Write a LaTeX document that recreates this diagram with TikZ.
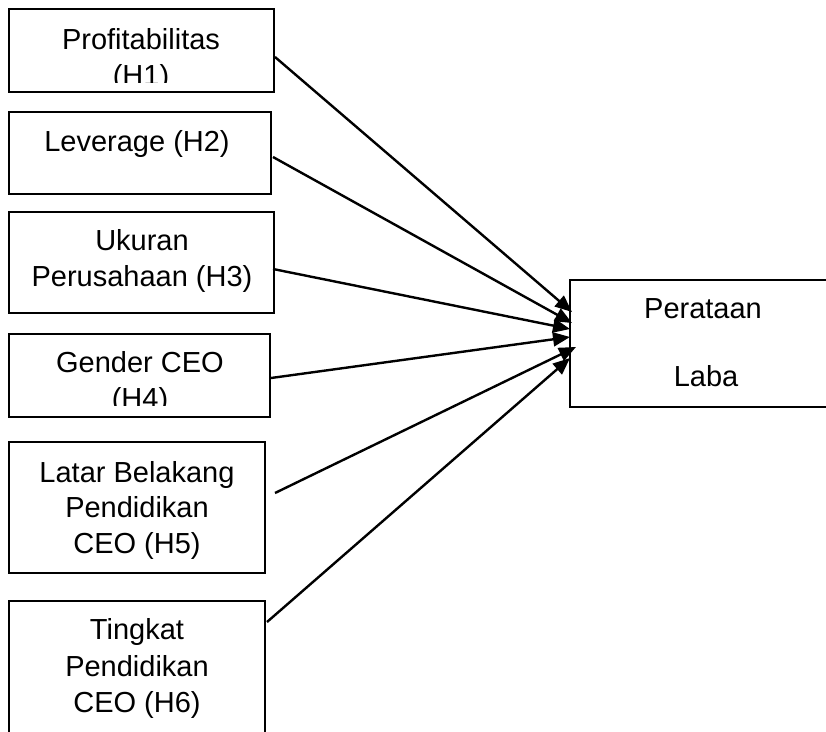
\documentclass[tikz,border=0pt]{standalone}
\usepackage{fontspec}
\setmainfont{Liberation Sans}
\usetikzlibrary{arrows.meta}
\begin{document}
\begin{tikzpicture}[x=1pt,y=-1pt,
  box/.style={draw=black,line width=2.2pt,rectangle,inner sep=0pt},
  lbl/.style={anchor=base,inner sep=0pt,font=\fontsize{29}{36}\selectfont},
  conn/.style={draw=black,line width=2.4pt,-{Triangle[length=17pt,width=14pt]}}]
\clip (0,0) rectangle (826,731);
\fill[white] (0,0) rectangle (826,731);
% boxes
\node[box,minimum width=265pt,minimum height=83pt] (b1) at (141.5,50.5) {};
\node[box,minimum width=262pt,minimum height=82pt] (b2) at (140,153) {};
\node[box,minimum width=265pt,minimum height=101pt] (b3) at (141.5,262.5) {};
\node[box,minimum width=261pt,minimum height=83pt] (b4) at (139.5,375.5) {};
\node[box,minimum width=256pt,minimum height=131pt] (b5) at (137,507.5) {};
\node[box,minimum width=256pt,minimum height=180pt] (b6) at (137,691) {};
\node[box,minimum width=300pt,minimum height=127pt] (t) at (720,343.5) {};
% texts
\begin{scope}
\clip (9,9) rectangle (274,82);
\node[lbl] (l1a) at (141,49) {Profitabilitas};
\node[lbl] (l1b) at (141,85) {(H1)};
\end{scope}
\node[lbl] (l2a) at (137,151) {Leverage (H2)};
\node[lbl] (l3a) at (142,250) {Ukuran};
\node[lbl] (l3b) at (142,286) {Perusahaan (H3)};
\begin{scope}
\clip (9,334) rectangle (270,405);
\node[lbl] (l4a) at (140,372) {Gender CEO};
\node[lbl] (l4b) at (140,408) {(H4)};
\end{scope}
\node[lbl] (l5a) at (137,482) {Latar Belakang};
\node[lbl] (l5b) at (137,517) {Pendidikan};
\node[lbl] (l5c) at (137,553) {CEO (H5)};
\node[lbl] (l6a) at (137,639) {Tingkat};
\node[lbl] (l6b) at (137,676) {Pendidikan};
\node[lbl] (l6c) at (137,712) {CEO (H6)};
\node[lbl] (ta) at (703,318) {Perataan};
\node[lbl] (tb) at (706,386) {Laba};
% connector endpoints
\coordinate (s1) at (275,57);
\coordinate (s2) at (273,157);
\coordinate (s3) at (273,269);
\coordinate (s4) at (271,378);
\coordinate (s5) at (275,493);
\coordinate (s6) at (267,622);
\coordinate (e1) at (572,312);
\coordinate (e2) at (572,323);
\coordinate (e3) at (570,329);
\coordinate (e4) at (570,337);
\coordinate (e5) at (576,347);
\coordinate (e6) at (570,358);
\draw[conn] (s1) -- (e1);
\draw[conn] (s2) -- (e2);
\draw[conn] (s3) -- (e3);
\draw[conn] (s4) -- (e4);
\draw[conn] (s5) -- (e5);
\draw[conn] (s6) -- (e6);
\end{tikzpicture}
\end{document}
